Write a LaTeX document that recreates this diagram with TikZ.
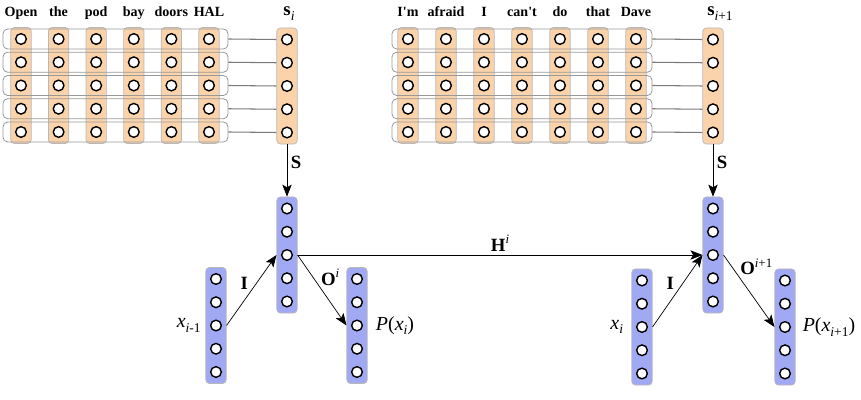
\documentclass[tikz,border=0pt]{standalone}
\usepackage{fontspec}
\setmainfont{Liberation Serif}
\usetikzlibrary{positioning,arrows.meta}
\definecolor{wdorange}{HTML}{FAD3AA}
\definecolor{hdblue}{HTML}{A2A9F3}
\definecolor{rimgray}{HTML}{999999}
\newcommand\lsub[1]{\raisebox{-0.5ex}{\fontsize{11.5}{12}\selectfont\mdseries #1}}
\newcommand\lsup[1]{\raisebox{0.85ex}{\fontsize{11}{12}\selectfont\mdseries #1}}
\tikzset{
  cell/.style    ={circle, draw=black, fill=white, line width=1.2pt, minimum size=3.2mm, inner sep=0pt},
  stack/.style   ={rectangle, rounded corners=3pt, draw=rimgray!70, line width=0.6pt,
                   minimum width=6.1mm, minimum height=34.8mm, inner sep=0pt},
  wordcol/.style ={stack, fill=wdorange},
  hidcol/.style  ={stack, fill=hdblue},
  rowbox/.style  ={draw=rimgray, rounded corners=4pt, line width=0.7pt, minimum height=6mm, inner sep=0pt},
  word/.style    ={font=\bfseries\fontsize{12}{14}\selectfont, anchor=base, inner sep=0pt},
  lbl/.style     ={font=\fontsize{17}{19}\selectfont, inner sep=1pt},
  oplbl/.style   ={font=\bfseries\fontsize{16}{18}\selectfont, inner sep=1pt},
  wire/.style    ={rimgray!80!black, line width=0.9pt},
  link/.style    ={-{Stealth[length=3.6mm,width=2.8mm,inset=0.8mm]}, line width=0.6pt},
}
\begin{document}
\begin{tikzpicture}[x=0.03cm,y=-0.03cm]
  \useasboundingbox (0,0) rectangle (861,400);
  % --- word vectors of both sentences ---
  \foreach \w [count=\k] in {Open,the,pod,bay,doors,HAL}{
    \node[wordcol] (wa\k) at ({21+37.6*(\k-1)},85.5) {};
    \node[word] (ta\k) at ({21+37.6*(\k-1)},17) {\w};
  }
  \foreach \w [count=\k] in {I\textquotesingle m,afraid,I,can\textquotesingle t,do,that,Dave}{
    \node[wordcol] (wb\k) at ({408+38*(\k-1)},85.5) {};
    \node[word] (tb\k) at ({408+38*(\k-1)},17) {\w};
  }
  % rows over the columns
  \foreach \r in {1,...,5}{
    \node[rowbox, minimum width=6.75cm] (ra\r) at (115.5,{15.75+23.25*\r}) {};
    \node[rowbox, minimum width=7.8cm] (rb\r) at (522,{15.75+23.25*\r}) {};
  }
  \foreach \k in {1,...,6}\foreach \r in {1,...,5}
    \node[cell] (wa\k-\r) at ({21+37.6*(\k-1)},{15.75+23.25*\r}) {};
  \foreach \k in {1,...,7}\foreach \r in {1,...,5}
    \node[cell] (wb\k-\r) at ({408+38*(\k-1)},{15.75+23.25*\r}) {};
  % --- sentence, hidden, input and output vectors ---
  \foreach \nm/\xx/\yy/\st in {sa/287/86/wordcol, sb/713/86/wordcol,
      ha/287/255/hidcol, hb/713/255/hidcol, ia/216/325.5/hidcol, oa/357/325.5/hidcol,
      ib/642/327/hidcol, ob/785/327/hidcol}{
    \node[\st] (\nm) at (\xx,\yy) {};
    \foreach \r in {1,...,5}
      \node[cell] (\nm-\r) at (\xx,{\yy+23.25*(\r-3)}) {};
  }
  \foreach \r in {1,...,5}{
    \draw[wire] (ra\r.east) -- (sa-\r -| sa.west);
    \draw[wire] (rb\r.east) -- (sb-\r -| sb.west);
  }
  \node[oplbl, anchor=base] (lsa) at (289,16) {s\lsub{\textit{i}}};
  \node[oplbl, anchor=base] (lsb) at (720,16) {s\lsub{\textit{i}+1}};
  % --- connections ---
  \draw[link] (sa) -- node[oplbl,pos=0.35,right=2pt] {S} (ha);
  \draw[link] (sb) -- node[oplbl,pos=0.35,right=2pt] {S} (hb);
  \draw[link] (ia.east) -- node[oplbl,pos=0.6,left=6pt] {I} (ha.west);
  \draw[link] (ib.east) -- node[oplbl,pos=0.6,left=6pt] {I} (hb.west);
  \draw[link] (ha.east) -- node[oplbl,pos=0.45,above right] {O\lsup{\textit{i}}} (oa.west);
  \draw[link] (hb.east) -- node[oplbl,pos=0.3,above right] {O\lsup{\textit{i}+1}} (ob.west);
  \draw[link] (ha.east) -- node[oplbl,above=2pt] {H\lsup{\textit{i}}} (hb.west);
  \node[lbl, left=3pt of ia] (xa) {\textit{x}\lsub{\textit{i}-1}};
  \node[lbl, right=6pt of oa] (pa) {\textit{P}(\textit{x}\lsub{\textit{i}})};
  \node[lbl, left=6pt of ib] (xb) {\textit{x}\lsub{\textit{i}}};
  \node[lbl, right=5pt of ob] (pb) {\textit{P}(\textit{x}\lsub{\textit{i}+1})};
\end{tikzpicture}
\end{document}
